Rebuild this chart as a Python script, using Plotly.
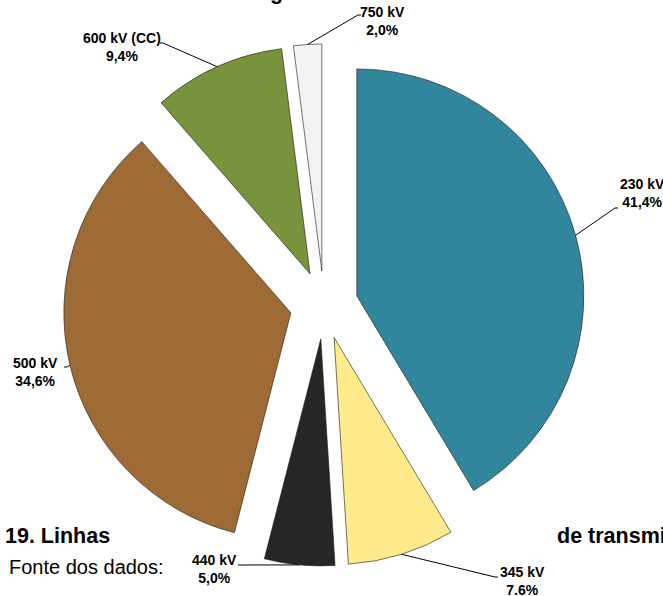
import math
import plotly.graph_objects as go

# Transmission line voltage classes and their share of total length (%)
classes = ["230 kV", "345 kV", "440 kV", "500 kV", "600 kV (CC)", "750 kV"]
shares = [41.4, 7.6, 5.0, 34.6, 9.4, 2.0]
share_text = ["41,4%", "7.6%", "5,0%", "34,6%", "9,4%", "2,0%"]
colors = ["#31859C", "#FFEB8C", "#262626", "#9E6A35", "#77933C", "#F2F2F2"]

W, H = 663, 596
CX, CY = 324, 305          # pie centre in pixels
R = 227                    # slice radius in pixels
PULL = 0.15                # explode fraction of radius
FONT = "Liberation Sans, Arial"

# label placement: (elbow x, elbow y, text centre x, text centre y, side)
label_pos = {
    "230 kV": (615, 208, 642, 193, 1),
    "345 kV": (495, 577, 522, 581, 1),
    "440 kV": (241, 565, 214, 569, -1),
    "500 kV": (67, 367, 35, 372, -1),
    "600 kV (CC)": (163, 43, 122, 47, -1),
    "750 kV": (358, 15, 383, 21, 1),
}


def px(x):
    return x / W


def py(y):
    return 1 - y / H


half = R * (1 + PULL)
fig = go.Figure(
    go.Pie(
        labels=classes,
        values=shares,
        sort=False,
        direction="clockwise",
        rotation=0,
        pull=[PULL] * len(shares),
        marker=dict(colors=colors, line=dict(color="rgba(30,25,20,0.6)", width=1)),
        textinfo="none",
        hoverinfo="label+percent",
        showlegend=False,
        domain=dict(x=[px(CX - half), px(CX + half)], y=[py(CY + half), py(CY - half)]),
    )
)

shapes = []
annotations = []
total = sum(shares)
cum = 0.0
for name, val, txt in zip(classes, shares, share_text):
    mid = (cum + val / 2) / total * 2 * math.pi
    cum += val
    dist = R * (1 + PULL)
    ax = CX + dist * math.sin(mid)
    ay = CY - dist * math.cos(mid)
    ex, ey, tx, ty, side = label_pos[name]
    shapes.append(dict(
        type="path", xref="paper", yref="paper",
        path=f"M {px(ax)},{py(ay)} L {px(ex)},{py(ey)} L {px(ex + 3 * side)},{py(ey)}",
        line=dict(color="black", width=1),
    ))
    annotations.append(dict(
        x=px(tx), y=py(ty), xref="paper", yref="paper",
        text=f"<b>{name}<br>{txt}</b>", showarrow=False,
        xanchor="center", yanchor="middle", align="center",
        font=dict(family=FONT, size=14, color="black"),
    ))

# caption fragments around the chart
annotations += [
    dict(x=px(3), y=py(536), xref="paper", yref="paper", text="<b>19. Linhas</b>",
         showarrow=False, xanchor="left", yanchor="middle",
         font=dict(family=FONT, size=21.5, color="black")),
    dict(x=px(555), y=py(536), xref="paper", yref="paper", text="<b>de transmi</b>",
         showarrow=False, xanchor="left", yanchor="middle",
         font=dict(family=FONT, size=21.5, color="black")),
    dict(x=px(7), y=py(567), xref="paper", yref="paper", text="Fonte dos dados:",
         showarrow=False, xanchor="left", yanchor="middle",
         font=dict(family=FONT, size=20, color="black")),
    dict(x=px(276), y=py(-8), xref="paper", yref="paper", text="<b>g</b>",
         showarrow=False, xanchor="center", yanchor="middle",
         font=dict(family=FONT, size=21.5, color="black")),
]

fig.update_layout(
    width=W, height=H,
    margin=dict(l=0, r=0, t=0, b=0),
    paper_bgcolor="white", plot_bgcolor="white",
    shapes=shapes, annotations=annotations,
)

fig.write_html("out.html")
